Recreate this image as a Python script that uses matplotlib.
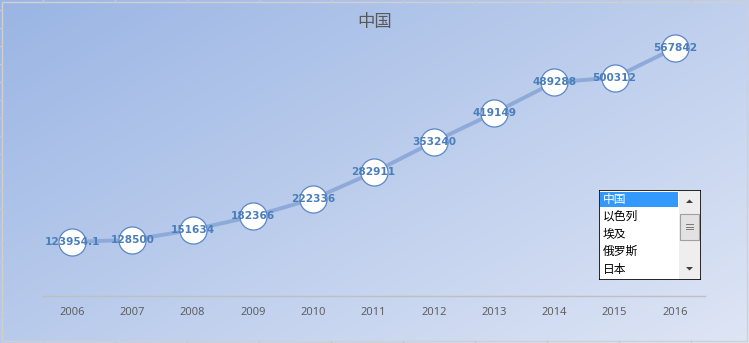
import numpy as np
import matplotlib
matplotlib.use("Agg")
from matplotlib import pyplot as plt
from matplotlib.patches import Rectangle, Polygon

plt.rcParams['font.family'] = ['Open Sans', 'Noto Sans CJK SC', 'DejaVu Sans']

years = [2006, 2007, 2008, 2009, 2010, 2011, 2012, 2013, 2014, 2015, 2016]
values = [123954.1, 128500, 151634, 182366, 222336, 282911, 353240, 419149, 489288, 500312, 567842]
labels = ['123954.1', '128500', '151634', '182366', '222336', '282911',
          '353240', '419149', '489288', '500312', '567842']
title = '中国'
countries = ['中国', '以色列', '埃及', '俄罗斯', '日本']

fig = plt.figure(figsize=(7.49, 3.43), dpi=100)

# gradient background
bg = fig.add_axes([0, 0, 1, 1])
gx, gy = np.meshgrid(np.linspace(0, 1, 300), np.linspace(0, 1, 140))
t = np.clip(0.55 * gx + 0.45 * gy, 0, 1)
c0 = np.array([154, 181, 228]) / 255
c1 = np.array([222, 229, 245]) / 255
img = c0[None, None, :] * (1 - t[..., None]) + c1[None, None, :] * t[..., None]
bg.imshow(img, aspect='auto', extent=[0, 1, 0, 1], origin='upper')
bg.set_xlim(0, 1)
bg.set_ylim(0, 1)
bg.axis('off')
# faint sheet gridline marks around the edge
bg.add_patch(Rectangle((0.003, 0.006), 0.994, 0.988, fill=False, ec='#d0d0d0', lw=1))
for xp in np.arange(43, 749, 72):
    bg.plot([xp / 749, xp / 749], [0.994, 1.0], color='#c8c8c8', lw=1)
    bg.plot([xp / 749, xp / 749], [0.0, 0.006], color='#c8c8c8', lw=1)
for yp in np.arange(10, 343, 18):
    bg.plot([0.0, 0.003], [1 - yp / 343, 1 - yp / 343], color='#c8c8c8', lw=1)

ax = fig.add_axes([42 / 749, 47 / 343, 663 / 749, 262 / 343])
ax.patch.set_alpha(0)
ax.plot(years, values, color='#8eaad9', lw=2.8, zorder=2, solid_capstyle='round')
ax.plot(years, values, 'o', ms=19.5, mfc='white', mec='#5b87c5', mew=0.9, zorder=3)
for x, v, s in zip(years, values, labels):
    ax.text(x, v, s, ha='center', va='center', fontsize=7.6, color='#4a7ebb',
            fontweight='bold', zorder=4, family=['DejaVu Sans'])
ax.set_xlim(2005.5, 2016.5)
ax.set_ylim(0, 600000)
ax.set_yticks([])
ax.set_xticks(years)
ax.set_xticklabels([str(y) for y in years], fontsize=8, color='#595959')
ax.tick_params(axis='x', length=0, pad=8)
for sp in ['top', 'right', 'left']:
    ax.spines[sp].set_visible(False)
ax.spines['bottom'].set_color('#bfbfbf')
ax.spines['bottom'].set_linewidth(1)

fig.text(375 / 749, 1 - 22 / 343, title, ha='center', va='center', fontsize=12.5,
         color='#595959', family=['Noto Sans CJK SC'])

# list box
lb = fig.add_axes([599 / 749, 1 - 280 / 343, 102 / 749, 90 / 343])
lb.set_xlim(0, 102)
lb.set_ylim(90, 0)
lb.axis('off')
lb.add_patch(Rectangle((0, 0), 102, 90, fc='white', ec='none'))
lb.add_patch(Rectangle((1, 1.5), 78, 15, fc='#3399ff', ec='none'))
row_y = [9, 26.5, 44, 61.5, 79]
for i, (name, yy) in enumerate(zip(countries, row_y)):
    lb.text(4, yy, name, va='center', ha='left', fontsize=8.5,
            color='white' if i == 0 else 'black', family=['Noto Sans CJK SC'])
# scrollbar
lb.add_patch(Rectangle((80, 0.5), 21, 89, fc='#eeeeee', ec='none'))
lb.add_patch(Rectangle((81, 24), 19, 26, fc='#e2e2e2', ec='#a0a0a0', lw=0.8))
for k in range(3):
    lb.plot([87, 94], [34 + k * 2.5, 34 + k * 2.5], color='#7a7a7a', lw=0.7)
lb.add_patch(Polygon([[87, 13], [94, 13], [90.5, 9.5]], closed=True, fc='#404040', ec='none'))
lb.add_patch(Polygon([[87, 77], [94, 77], [90.5, 80.5]], closed=True, fc='#404040', ec='none'))
lb.add_patch(Rectangle((0.3, 0.3), 101.4, 89.4, fill=False, ec='black', lw=1.2))

fig.savefig('out.png', dpi=100)
